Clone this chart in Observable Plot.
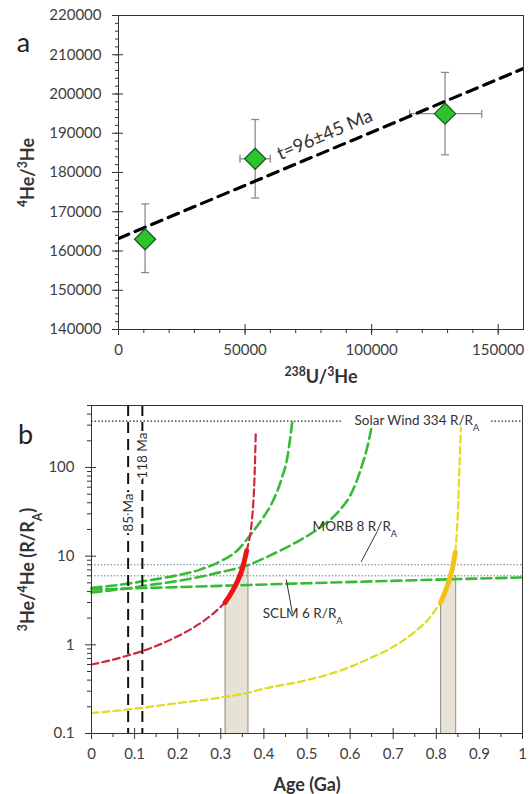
<!DOCTYPE html>
<html><head><meta charset="utf-8">
<script src="https://cdn.jsdelivr.net/npm/d3@7"></script>
<script src="https://cdn.jsdelivr.net/npm/@observablehq/plot@0.6"></script>
<style>
body{margin:0;background:#fff;}
#root{width:532px;height:794px;overflow:hidden;background:#fff;}
svg{display:block;}
</style></head><body><div id="root"></div>
<script>
// ---------- Panel a data ----------
const ptX   = [10500, 54000, 129000];
const ptY   = [163000, 183500, 195000];
const ptXlo = [10000, 48000, 115000];
const ptXhi = [11000, 60000, 143500];
const ptYlo = [154500, 173500, 184500];
const ptYhi = [172000, 193500, 205500];
const fitX  = [0, 160000];
const fitY  = [163200, 206500];
const fitLabel = "t=96±45 Ma";
const fitLabelX = 81500, fitLabelY = 189600;
const aXTicks = [0, 50000, 100000, 150000];
const aYTicks = [140000, 150000, 160000, 170000, 180000, 190000, 200000, 210000, 220000];
const aXLabel = "^{238}U/^{3}He";
const aYLabel = "^{4}He/^{3}He";

// ---------- Panel b data ----------
const greenA    = [[0,4.4],[0.085,4.9],[0.118,5.2],[0.2,6.1],[0.25,7.0],[0.3,8.8],[0.34,11.8],[0.367,17],[0.4,28],[0.419,40],[0.44,72],[0.455,135],[0.466,334]];
const greenB    = [[0,3.9],[0.085,4.35],[0.118,4.6],[0.2,5.25],[0.3,6.6],[0.365,8.0],[0.42,10.5],[0.482,15],[0.53,21],[0.576,33],[0.6,48],[0.615,70],[0.63,115],[0.64,170],[0.649,272]];
const greenFlat = [[0,4.2],[0.25,4.55],[0.5,4.95],[0.75,5.35],[1,5.75]];
const redPre    = [[0,0.6],[0.05,0.68],[0.085,0.76],[0.118,0.85],[0.15,0.97],[0.2,1.25],[0.25,1.72],[0.28,2.2],[0.31,3.0]];
const redFit    = [[0.31,3.0],[0.32,3.55],[0.33,4.3],[0.34,5.4],[0.35,7.2],[0.36,11.5]];
const redPost   = [[0.36,11.5],[0.365,14.5],[0.37,20],[0.374,32],[0.377,55],[0.379,100],[0.381,240]];
const yelPre    = [[0,0.17],[0.1,0.19],[0.2,0.22],[0.3,0.255],[0.36,0.285],[0.4,0.32],[0.5,0.4],[0.576,0.51],[0.65,0.72],[0.7,0.95],[0.75,1.4],[0.78,1.9],[0.81,3.0]];
const yelFit    = [[0.81,3.0],[0.82,3.9],[0.83,5.4],[0.838,7.5],[0.844,11]];
const yelPost   = [[0.844,11],[0.848,20],[0.851,40],[0.853,80],[0.855,150],[0.857,280]];
const shadeRed  = [[0.31,3.0],[0.32,3.55],[0.33,4.3],[0.34,5.4],[0.35,7.2],[0.352,8],[0.363,8]];
const shadeYel  = [[0.81,3.0],[0.82,3.9],[0.83,5.4],[0.832,6],[0.845,6]];
const shadeEdges = [[0.31,3.0],[0.363,8],[0.81,3.0],[0.845,6]];
const ageLines  = [0.085, 0.118];
const ageLabels = [{x:0.0866, y:31, t:"85 Ma"}, {x:0.119, y:136, t:"118 Ma"}];
const solarR = 334, morbR = 8, sclmR = 6;
const solarSegs = [[0, 0.584], [0.928, 1]];
const refLabels = [
  {x:0.755, y:334, t:"Solar Wind 334 R/R_{A}", a:"middle"},
  {x:0.611, y:21.5, t:"MORB 8 R/R_{A}", a:"start"},
  {x:0.49, y:2.24, t:"SCLM 6 R/R_{A}", a:"start"}
];
const arrowsB = [
  {x1:0.662, y1:18.6, x2:0.626, y2:8.7, bend:-35},
  {x1:0.466, y1:2.3, x2:0.452, y2:5.4, bend:35}
];
const bXTicks = [0,0.1,0.2,0.3,0.4,0.5,0.6,0.7,0.8,0.9,1];
const bXTickLabels = ["0","0.1","0.2","0.3","0.4","0.5","0.6","0.7","0.8","0.9","1"];
const bYTicks = [0.1, 1, 10, 100];
const bYTickLabels = ["0.1", "1", "10", "100"];
const bXLabel = "Age (Ga)";
const bYLabel = "^{3}He/^{4}He (R/R_{A})";

// ---------- helpers ----------
const FONT = "Lato, 'Open Sans', 'Liberation Sans', sans-serif";
const P = a => a.map(([x, y]) => ({x, y}));
const capH = {draw(ctx, size){const r = Math.sqrt(size/Math.PI); ctx.moveTo(-r,0); ctx.lineTo(r,0);}};
const capV = {draw(ctx, size){const r = Math.sqrt(size/Math.PI); ctx.moveTo(0,-r); ctx.lineTo(0,r);}};
const blank = () => "";
const lookup = (ticks, labels) => d => {
  const i = ticks.findIndex(t => Math.abs(t - d) < 1e-9 * Math.max(1, Math.abs(t)));
  return i >= 0 ? labels[i] : "";
};

function richify(svg){
  const NS = "http://www.w3.org/2000/svg";
  svg.querySelectorAll("text").forEach(t => {
    const tsp = t.querySelectorAll("tspan");
    const nodes = tsp.length ? [...tsp] : [t];
    nodes.forEach(n => {
      const s = n.textContent;
      if (!/[\^_]\{/.test(s)) return;
      n.textContent = "";
      s.split(/(\^\{[^}]*\}|_\{[^}]*\})/).forEach(p => {
        if (!p) return;
        const ts = document.createElementNS(NS, "tspan");
        if (p.startsWith("^{")) { ts.textContent = p.slice(2,-1); ts.setAttribute("baseline-shift","super"); ts.setAttribute("font-size","68%"); }
        else if (p.startsWith("_{")) { ts.textContent = p.slice(2,-1); ts.setAttribute("baseline-shift","sub"); ts.setAttribute("font-size","68%"); }
        else ts.textContent = p;
        n.appendChild(ts);
      });
    });
  });
}

const pts = ptX.map((x,i) => ({x, y:ptY[i], xlo:ptXlo[i], xhi:ptXhi[i], ylo:ptYlo[i], yhi:ptYhi[i]}));
const fit = fitX.map((x,i) => ({x, y:fitY[i]}));
const ERR = "#8c8c8c";
const lbl = {textAnchor:"middle", lineAnchor:"middle", fill:"#333"};

const pa = Plot.plot({
  width:532, height:390, marginTop:15, marginBottom:61, marginLeft:118, marginRight:9,
  style:{fontFamily:FONT, fontSize:"15px", color:"#333", background:"white"},
  x:{domain:[0,160000]}, y:{domain:[140000,220000]},
  marks:[
    Plot.axisX({ticks:aXTicks, tickFormat:d => String(d), tickSize:6, tickPadding:9, label:null, fill:"#404040"}),
    Plot.axisX({ticks:aXTicks, tickFormat:blank, tickSize:5, dy:-5, label:null}),
    Plot.axisX({ticks:d3.range(10000,160000,10000), tickFormat:blank, tickSize:4, label:null}),
    Plot.axisY({ticks:aYTicks, tickFormat:d => String(d), tickSize:6, tickPadding:11, label:null, fill:"#404040"}),
    Plot.axisY({ticks:aYTicks, tickFormat:blank, tickSize:5, dx:5, label:null}),
    Plot.axisY({ticks:d3.range(142000,220000,2000), tickFormat:blank, tickSize:3, label:null}),
    Plot.frame({stroke:"#333"}),
    Plot.ruleX(pts, {x:"x", y1:"ylo", y2:"yhi", stroke:ERR, strokeWidth:1.3}),
    Plot.ruleY(pts, {y:"y", x1:"xlo", x2:"xhi", stroke:ERR, strokeWidth:1.3}),
    Plot.dot(pts, {x:"x", y:"ylo", symbol:capH, r:4, fill:"none", stroke:ERR, strokeWidth:1.3}),
    Plot.dot(pts, {x:"x", y:"yhi", symbol:capH, r:4, fill:"none", stroke:ERR, strokeWidth:1.3}),
    Plot.dot(pts, {x:"xlo", y:"y", symbol:capV, r:4, fill:"none", stroke:ERR, strokeWidth:1.3}),
    Plot.dot(pts, {x:"xhi", y:"y", symbol:capV, r:4, fill:"none", stroke:ERR, strokeWidth:1.3}),
    Plot.line(fit, {x:"x", y:"y", stroke:"black", strokeWidth:3.2, strokeDasharray:"11,7", clip:true}),
    Plot.text([fitLabel], {x:fitLabelX, y:fitLabelY, rotate:-23, fontSize:18.5, fill:"#333"}),
    Plot.dot(pts, {x:"x", y:"y", symbol:"diamond2", r:9.5, fill:"#2fc22f", stroke:"#1c5a1c", strokeWidth:1.3}),
    Plot.text([aXLabel], {frameAnchor:"bottom", dy:48, fontSize:18, fontWeight:"bold", ...lbl}),
    Plot.text([aYLabel], {frameAnchor:"left", dx:-90, rotate:-90, fontSize:18, fontWeight:"bold", ...lbl}),
    Plot.text(["a"], {frameAnchor:"top-left", dx:-95, dy:28, fontSize:27, ...lbl, fill:"#222"})
  ]
});

const line = (d, o) => Plot.line(P(d), {x:"x", y:"y", curve:"monotone-x", ...o});
const GREEN = "#35bb35";

const pb = Plot.plot({
  width:532, height:404, marginTop:15, marginBottom:61, marginLeft:91, marginRight:10,
  style:{fontFamily:FONT, fontSize:"15px", color:"#333", background:"white"},
  x:{domain:[0,1]}, y:{type:"log", domain:[0.1,500]},
  marks:[
    Plot.areaY(P(shadeRed), {x:"x", y1:0.1, y2:"y", fill:"#e6e2d4"}),
    Plot.areaY(P(shadeYel), {x:"x", y1:0.1, y2:"y", fill:"#e6e2d4"}),
    Plot.ruleX(P(shadeEdges), {x:"x", y1:0.1, y2:"y", stroke:"#8a8a8a", strokeWidth:1}),
    Plot.axisX({ticks:bXTicks, tickFormat:lookup(bXTicks, bXTickLabels), tickSize:6, tickPadding:9, label:null, fill:"#404040"}),
    Plot.axisX({ticks:bXTicks, tickFormat:blank, tickSize:5, dy:-5, label:null}),
    Plot.axisX({ticks:d3.range(0.05,1,0.1), tickFormat:blank, tickSize:4, label:null}),
    Plot.axisY({ticks:bYTicks, tickFormat:lookup(bYTicks, bYTickLabels), tickSize:6, tickPadding:11, label:null, fill:"#404040"}),
    Plot.axisY({ticks:bYTicks, tickFormat:blank, tickSize:5, dx:5, label:null}),
    Plot.axisY({ticks:[0.2,0.3,0.4,0.5,0.6,0.7,0.8,0.9,2,3,4,5,6,7,8,9,20,30,40,50,60,70,80,90,200,300,400,500], tickFormat:blank, tickSize:4, label:null}),
    Plot.ruleY(solarSegs.map(([a,b]) => ({a,b})), {y:solarR, x1:"a", x2:"b", stroke:"#222", strokeWidth:1.3, strokeDasharray:"1.5,2"}),
    Plot.ruleY([morbR], {stroke:"#4d6b8a", strokeWidth:1, strokeDasharray:"1.3,2"}),
    Plot.ruleY([sclmR], {stroke:"#6d5a78", strokeWidth:1, strokeDasharray:"1.3,2"}),
    line(greenFlat, {stroke:GREEN, strokeWidth:2.6, strokeDasharray:"10,5"}),
    line(greenB, {stroke:GREEN, strokeWidth:2.6, strokeDasharray:"10,5"}),
    line(greenA, {stroke:GREEN, strokeWidth:2.6, strokeDasharray:"10,5"}),
    line(yelPre, {stroke:"#dcdc22", strokeWidth:2.2, strokeDasharray:"7,4"}),
    line(yelPost, {stroke:"#e6dc1e", strokeWidth:2.2, strokeDasharray:"7,4"}),
    line(yelFit, {stroke:"#f2c218", strokeWidth:5}),
    line(redPre, {stroke:"#cc2840", strokeWidth:2.2, strokeDasharray:"7,4"}),
    line(redPost, {stroke:"#cc2840", strokeWidth:2.2, strokeDasharray:"7,4"}),
    line(redFit, {stroke:"#ee1414", strokeWidth:5}),
    Plot.ruleX(ageLines, {stroke:"#111", strokeWidth:2, strokeDasharray:"11,6"}),
    Plot.text(ageLabels, {x:"x", y:"y", text:"t", rotate:-90, fontSize:13.5, fill:"#333", stroke:"white", strokeWidth:5}),
    Plot.text(refLabels, {x:"x", y:"y", text:"t", textAnchor:"a", fontSize:13.5, fill:"#333"}),
    Plot.arrow(arrowsB, {x1:"x1", y1:"y1", x2:"x2", y2:"y2", bend:"bend", stroke:"#333", strokeWidth:1, headLength:6}),
    Plot.frame({stroke:"#333"}),
    Plot.text([bXLabel], {frameAnchor:"bottom", dy:52, fontSize:18, fontWeight:"bold", ...lbl}),
    Plot.text([bYLabel], {frameAnchor:"left", dx:-63, rotate:-90, fontSize:18, fontWeight:"bold", ...lbl}),
    Plot.text(["b"], {frameAnchor:"top-left", dx:-66, dy:30, fontSize:27, ...lbl, fill:"#222"})
  ]
});

const root = document.getElementById("root");
root.appendChild(pa);
root.appendChild(pb);
richify(pa); richify(pb);
</script></body></html>
